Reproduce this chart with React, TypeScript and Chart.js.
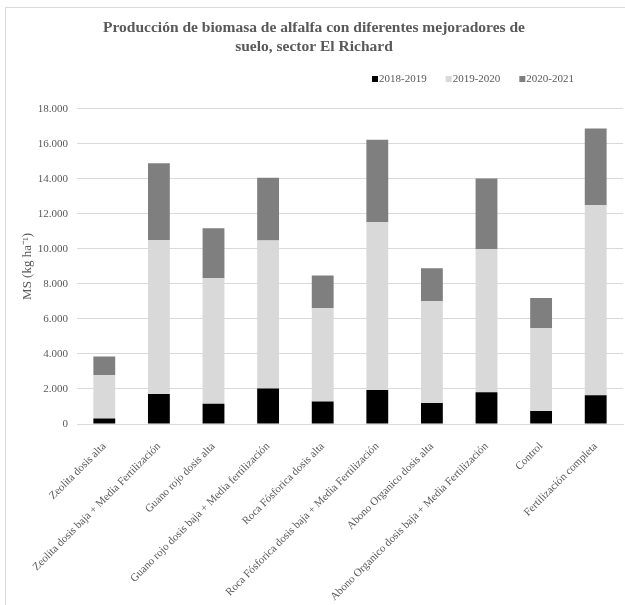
import React, { useEffect, useRef } from "react";
import { Chart, registerables } from "chart.js";

Chart.register(...registerables);

const categories = [
  "Zeolita dosis alta",
  "Zeolita dosis baja + Media Fertilización",
  "Guano rojo dosis alta",
  "Guano rojo dosis baja + Media fertilización",
  "Roca Fósforica dosis alta",
  "Roca Fósforica dosis baja + Media Fertilización",
  "Abono Organico dosis alta",
  "Abono Organico dosis baja + Media Fertilización",
  "Control",
  "Fertilización completa",
];

const season2018 = [320, 1710, 1160, 2020, 1280, 1940, 1200, 1810, 740, 1640];
const season2019 = [2480, 8800, 7160, 8460, 5330, 9600, 5830, 8170, 4730, 10870];
const season2020 = [1050, 4380, 2860, 3580, 1870, 4690, 1870, 4040, 1730, 4360];

const seriesLabels = ["2018-2019", "2019-2020", "2020-2021"];
const seriesColors = ["#000000", "#d9d9d9", "#7f7f7f"];

const titleLines = [
  "Producción de biomasa de alfalfa con diferentes mejoradores de",
  "suelo, sector El Richard",
];
const yTitle = "MS (kg ha⁻¹)";

const FONT = "'Liberation Serif', 'Times New Roman', serif";
const TEXT = "#595959";

const fmt = (v: number) =>
  String(v).replace(/\B(?=(\d{3})+(?!\d))/g, ".");

const framePlugin = {
  id: "frame",
  beforeDraw(chart: any) {
    const ctx = chart.ctx;
    ctx.save();
    ctx.fillStyle = "#ffffff";
    ctx.fillRect(0, 0, chart.width, chart.height);
    ctx.strokeStyle = "#d9d9d9";
    ctx.lineWidth = 1;
    ctx.strokeRect(5.5, 7.5, 800, 800);
    ctx.restore();
  },
};

const legendPlugin = {
  id: "customLegend",
  afterDraw(chart: any) {
    const ctx = chart.ctx;
    ctx.save();
    ctx.font = `11px ${FONT}`;
    ctx.textBaseline = "middle";
    const y = 79;
    let x = 372;
    chart.data.datasets.forEach((ds: any) => {
      ctx.fillStyle = ds.backgroundColor;
      ctx.fillRect(x, y - 3, 6, 6);
      ctx.fillStyle = TEXT;
      ctx.fillText(ds.label, x + 7, y);
      x += 7 + ctx.measureText(ds.label).width + 19;
    });
    ctx.restore();
  },
};

export default function App() {
  const ref = useRef<HTMLCanvasElement | null>(null);

  useEffect(() => {
    if (!ref.current) return;
    const chart = new Chart(ref.current, {
      type: "bar",
      data: {
        labels: categories,
        datasets: [season2018, season2019, season2020].map((d, i) => ({
          label: seriesLabels[i],
          data: d,
          backgroundColor: seriesColors[i],
          borderWidth: 0,
          categoryPercentage: 1,
          barPercentage: 0.4,
        })),
      },
      options: {
        responsive: false,
        animation: false,
        layout: { padding: { left: 5, right: 2, top: 0, bottom: 0 } },
        plugins: {
          legend: { display: false },
          tooltip: { enabled: false },
          title: {
            display: true,
            text: titleLines,
            color: TEXT,
            font: { family: FONT, size: 15.5, weight: "bold", lineHeight: 1.25 },
            padding: { top: 18, bottom: 52 },
          },
        },
        scales: {
          x: {
            stacked: true,
            grid: { display: false },
            border: { display: true, color: "#d9d9d9" },
            ticks: {
              color: TEXT,
              font: { family: FONT, size: 11 },
              minRotation: 45,
              maxRotation: 45,
              autoSkip: false,
              padding: 8,
            },
            afterFit: (scale: any) => {
              scale.height = 181;
            },
          },
          y: {
            stacked: true,
            min: 0,
            max: 18000,
            grid: { color: "#d9d9d9", drawTicks: false },
            border: { display: false },
            ticks: {
              stepSize: 2000,
              color: TEXT,
              font: { family: FONT, size: 11 },
              padding: 9,
              callback: (v: any) => fmt(Number(v)),
            },
            title: {
              display: true,
              text: yTitle,
              color: TEXT,
              font: { family: FONT, size: 13 },
              padding: { top: 15, bottom: 0 },
            },
            afterFit: (scale: any) => {
              scale.width = 72;
            },
          },
        },
      },
      plugins: [framePlugin, legendPlugin],
    });
    return () => chart.destroy();
  }, []);

  return (
    <div style={{ position: "fixed", left: 0, top: 0, width: 625, height: 605, background: "#fff" }}>
      <canvas ref={ref} width={625} height={605} />
    </div>
  );
}
